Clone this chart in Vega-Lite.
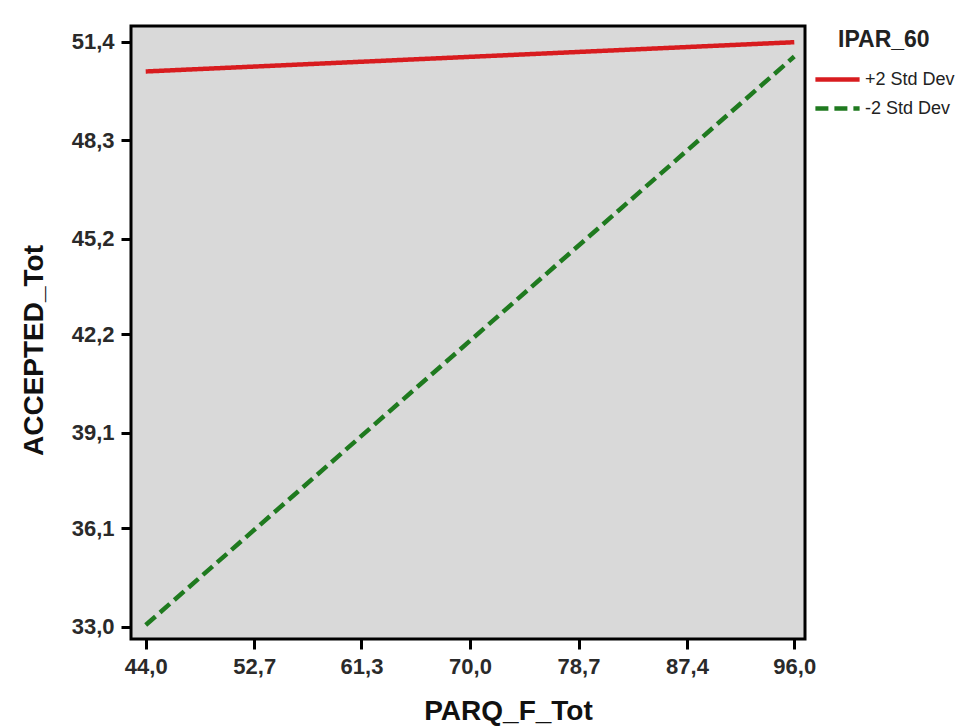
{
  "$schema": "https://vega.github.io/schema/vega-lite/v6.json",
  "width": 674,
  "height": 613,
  "autosize": {"type": "none"},
  "padding": {"left": 131, "top": 26, "right": 157, "bottom": 87},
  "background": "white",
  "config": {
    "view": {"fill": "#d9d9d9", "stroke": "black", "strokeWidth": 3},
    "font": "Liberation Sans",
    "axis": {
      "domain": false,
      "grid": false,
      "ticks": true,
      "tickColor": "black",
      "tickWidth": 3,
      "tickSize": 10,
      "labelFont": "Liberation Sans",
      "labelFontSize": 22,
      "labelFontWeight": "bold",
      "labelColor": "#2a2a2a",
      "titleFont": "Liberation Sans",
      "titleFontSize": 28,
      "titleFontWeight": "bold",
      "titleColor": "#111111"
    },
    "legend": {
      "orient": "none",
      "legendX": 707,
      "legendY": 3,
      "titleFont": "Liberation Sans",
      "titleFontSize": 23,
      "titleFontWeight": "bold",
      "titleColor": "#222222",
      "labelFont": "Liberation Sans",
      "labelFontSize": 18,
      "labelColor": "#222222",
      "symbolType": "M-1.7,0H1.7",
      "symbolStrokeWidth": 4.5,
      "symbolSize": 676,
      "symbolOffset": -16,
      "labelOffset": 12,
      "titlePadding": 12,
      "rowPadding": 4
    }
  },
  "data": {
    "values": [
      {"PARQ_F_Tot": 44.0, "ACCEPTED_Tot": 50.46, "IPAR_60": "+2 Std Dev"},
      {"PARQ_F_Tot": 96.0, "ACCEPTED_Tot": 51.38, "IPAR_60": "+2 Std Dev"},
      {"PARQ_F_Tot": 44.0, "ACCEPTED_Tot": 33.05, "IPAR_60": "-2 Std Dev"},
      {"PARQ_F_Tot": 96.0, "ACCEPTED_Tot": 50.93, "IPAR_60": "-2 Std Dev"}
    ]
  },
  "mark": {"type": "line", "strokeWidth": 4.5},
  "encoding": {
    "x": {
      "field": "PARQ_F_Tot",
      "type": "quantitative",
      "scale": {"domain": [42.82, 96.86], "nice": false, "zero": false},
      "axis": {
        "values": [44.0, 52.7, 61.3, 70.0, 78.7, 87.4, 96.0],
        "labelExpr": "replace(format(datum.value, '.1f'), '.', ',')",
        "labelPadding": 7,
        "title": "PARQ_F_Tot",
        "titleX": 377,
        "titleY": 80,
        "titleAnchor": null,
        "titleAlign": "center",
        "titleBaseline": "alphabetic"
      }
    },
    "y": {
      "field": "ACCEPTED_Tot",
      "type": "quantitative",
      "scale": {"domain": [32.61, 51.89], "nice": false, "zero": false},
      "axis": {
        "values": [33.0, 36.1, 39.1, 42.2, 45.2, 48.3, 51.4],
        "labelExpr": "replace(format(datum.value, '.1f'), '.', ',')",
        "labelPadding": 7,
        "title": "ACCEPTED_Tot",
        "titleX": -89,
        "titleY": 324,
        "titleAngle": -90,
        "titleAlign": "center",
        "titleBaseline": "alphabetic"
      }
    },
    "color": {
      "field": "IPAR_60",
      "type": "nominal",
      "scale": {"domain": ["+2 Std Dev", "-2 Std Dev"], "range": ["#d81c1f", "#1f7a1f"]},
      "legend": {"title": "IPAR_60"}
    },
    "strokeDash": {
      "field": "IPAR_60",
      "type": "nominal",
      "scale": {"domain": ["+2 Std Dev", "-2 Std Dev"], "range": [[1, 0], [13, 6]]},
      "legend": {"title": "IPAR_60"}
    }
  }
}
